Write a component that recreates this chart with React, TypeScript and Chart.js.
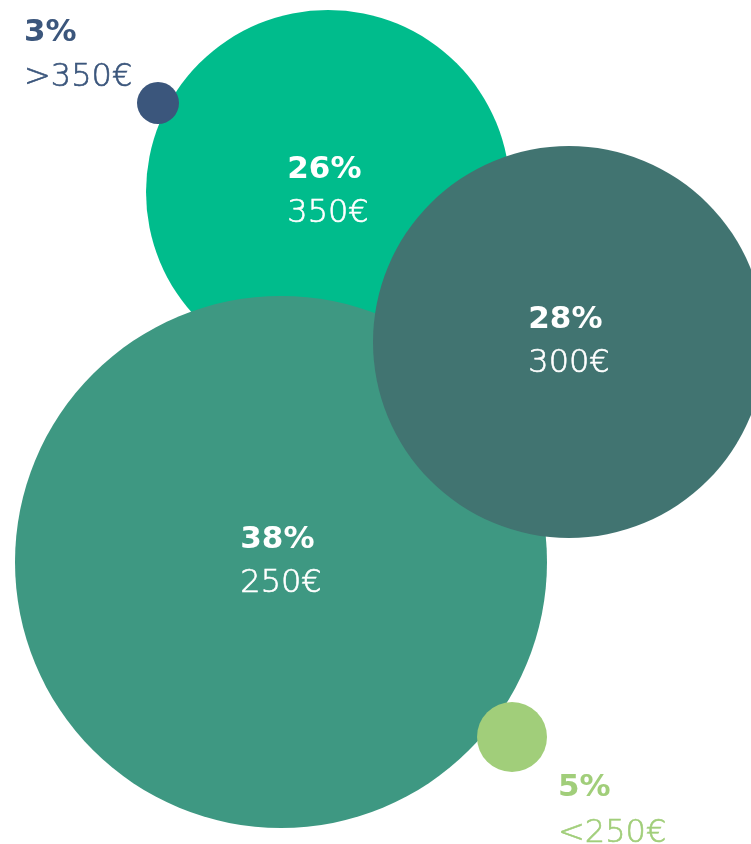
import React, { useEffect, useRef } from "react";
import { Chart, registerables } from "chart.js";

Chart.register(...registerables);

// Data (in drawing order)
const categories = ["350€", "250€", "300€", ">350€", "<250€"];
const shares = [26, 38, 28, 3, 5]; // percent
const posX = [328, 281, 569, 158, 512]; // bubble centres on the layout plane
const posY = [192, 562, 342, 103, 737];

const colors = ["#00bc8c", "#3e9882", "#417471", "#3b567c", "#a1ce7a"];
const RADIUS_PER_PERCENT = 7;

// label placement for small bubbles (outside)
const outsideLabel: Record<string, { dx: number; dy1: number; dy2: number }> = {
  ">350€": { dx: -134, dy1: -62, dy2: -17 },
  "<250€": { dx: 46, dy1: 59, dy2: 105 },
};

const BOLD = "bold 31px 'DejaVu Sans', sans-serif";
const LIGHT = "200 32px 'DejaVu Sans', sans-serif";

function lightText(ctx: CanvasRenderingContext2D, txt: string, x: number, y: number, color: string) {
  ctx.font = LIGHT;
  ctx.fillStyle = color;
  ctx.strokeStyle = color;
  ctx.lineWidth = 0.6;
  ctx.fillText(txt, x, y);
  ctx.strokeText(txt, x, y);
}

const labelPlugin = {
  id: "bubbleLabels",
  afterDatasetsDraw(chart: any) {
    const ctx = chart.ctx;
    const meta = chart.getDatasetMeta(0);
    ctx.save();
    ctx.textBaseline = "alphabetic";
    ctx.textAlign = "left";
    meta.data.forEach((el: any, i: number) => {
      const cat = categories[i];
      const pct = shares[i] + "%";
      const out = outsideLabel[cat];
      if (out) {
        ctx.fillStyle = colors[i];
        ctx.font = BOLD;
        ctx.fillText(pct, el.x + out.dx, el.y + out.dy1);
        lightText(ctx, cat, el.x + out.dx, el.y + out.dy2, colors[i]);
      } else {
        ctx.font = LIGHT;
        const w2 = ctx.measureText(cat).width;
        ctx.font = BOLD;
        const w1 = ctx.measureText(pct).width;
        const left = el.x - Math.max(w1, w2) / 2;
        ctx.fillStyle = "#ffffff";
        ctx.fillText(pct, left, el.y - 14);
        lightText(ctx, cat, left, el.y + 30, "#ffffff");
      }
    });
    ctx.restore();
  },
};

export default function App() {
  const ref = useRef<HTMLCanvasElement>(null);
  useEffect(() => {
    document.body.style.margin = "0";
    const chart = new Chart(ref.current!, {
      type: "bubble",
      data: {
        labels: categories,
        datasets: [
          {
            data: shares.map((s, i) => ({ x: posX[i], y: posY[i], r: s * RADIUS_PER_PERCENT })),
            backgroundColor: colors,
            borderWidth: 0,
            hoverRadius: 0,
            clip: false,
          },
        ],
      },
      options: {
        responsive: false,
        animation: false,
        layout: { padding: 0, autoPadding: false },
        plugins: { legend: { display: false }, tooltip: { enabled: false } },
        scales: {
          x: { type: "linear", display: false, min: 0, max: 751 },
          y: { type: "linear", display: false, min: 0, max: 844, reverse: true },
        },
      },
      plugins: [labelPlugin],
    } as any);
    return () => chart.destroy();
  }, []);
  return (
    <div style={{ width: 751, height: 844 }}>
      <canvas ref={ref} width={751} height={844} />
    </div>
  );
}
